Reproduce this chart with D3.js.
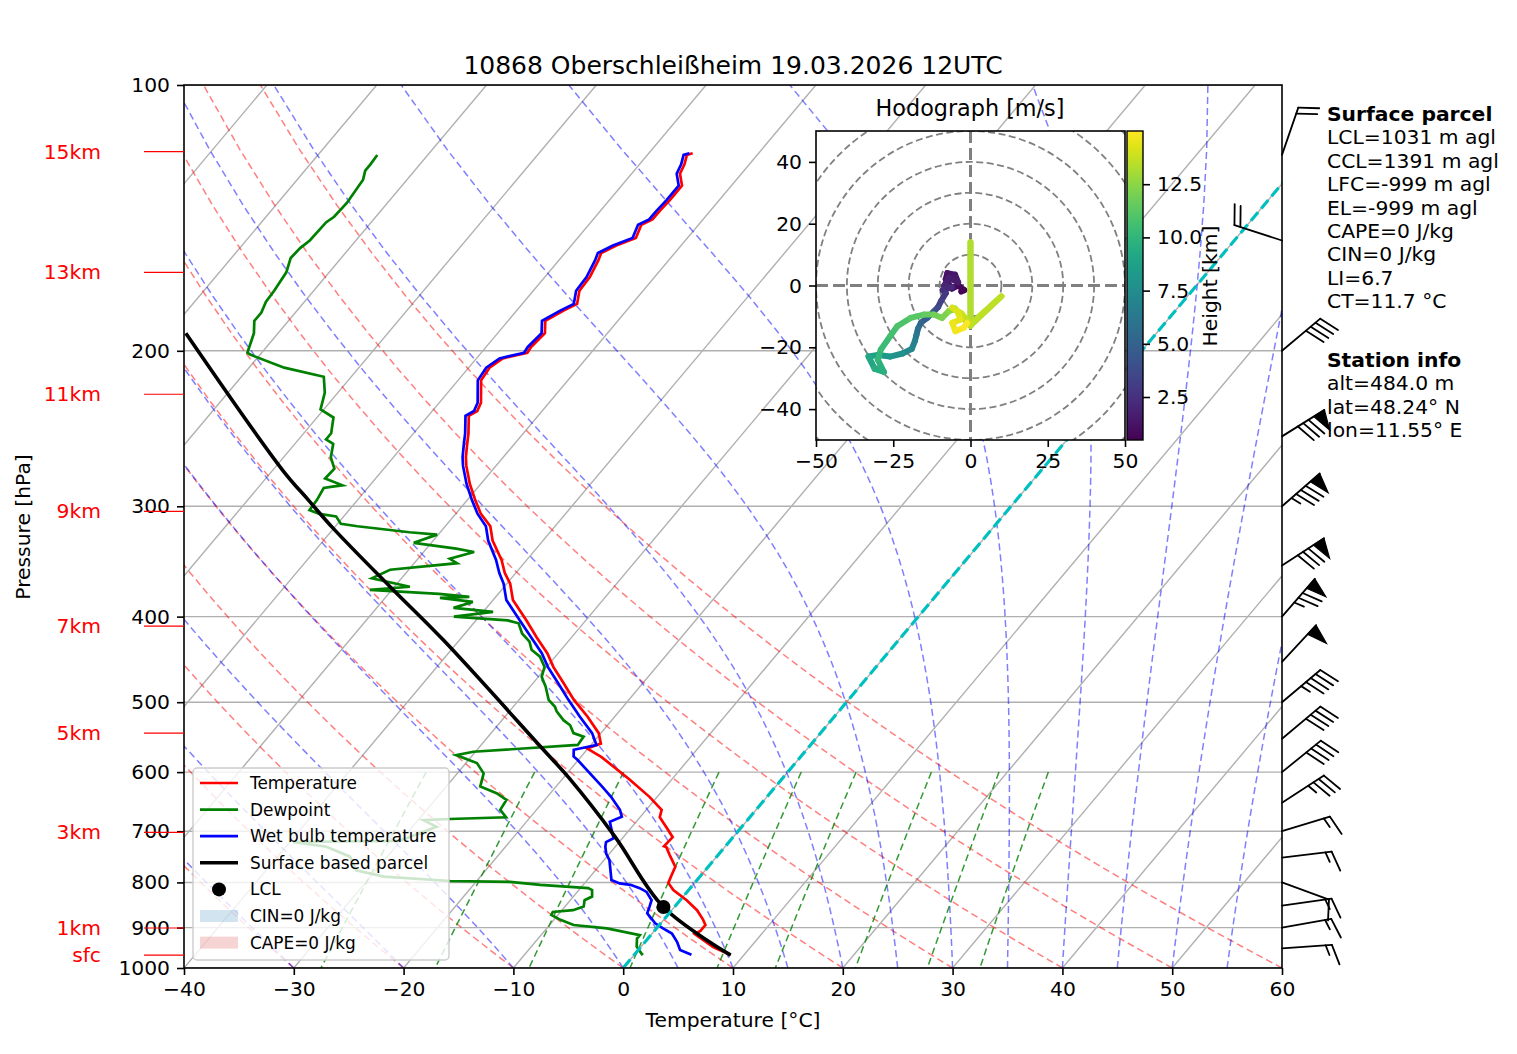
<!DOCTYPE html>
<html>
<head>
<meta charset="utf-8">
<script src="https://cdn.jsdelivr.net/npm/d3@7"></script>
<style>
  body { margin: 0; background: #fff; }
  text { font-family: "DejaVu Sans", sans-serif; }
</style>
</head>
<body>
<div class="chart"></div>
<script>
// ---- sounding values ----
const tempP = [967, 947, 915, 908, 894, 882, 860, 838, 816, 801, 785, 768, 745, 730, 728, 711, 692, 675, 662, 640,
  612, 577, 564, 557, 542, 519, 497, 476, 456, 440, 422, 404, 383, 367, 357, 345, 328, 316, 306, 295,
  283, 270, 264, 255, 248, 237, 234, 229, 216, 209, 204, 201, 198, 191, 185, 180, 177, 171, 165, 158,
  155, 152, 149, 144, 142, 139, 135, 130, 126, 123, 120, 119.5];
const tempT = [8.8, 6.6, 3.9, 4.2, 4.2, 3.6, 2.3, 0.6, -1.4, -2.4, -2.7, -3.0, -4.4, -5.3, -5.6, -5.5, -6.9, -8.2, -8.6, -10.7,
  -13.8, -18.1, -20.1, -19.2, -20.2, -22.5, -25.0, -27.2, -29.4, -31.0, -33.2, -35.4, -38.2, -39.7, -41.0, -42.3, -44.6, -45.9, -47.7, -49.3,
  -51.0, -52.7, -53.4, -54.3, -55.0, -56.3, -55.9, -56.2, -57.9, -58.1, -57.6, -55.8, -55.9, -55.7, -56.6, -55.7, -55.0, -55.8, -55.9, -56.4,
  -56.7, -55.9, -54.7, -55.2, -54.6, -54.6, -54.5, -54.5, -55.6, -55.9, -56.4, -56.0];

const wetP = [966, 954, 934, 914, 902, 890, 867, 852, 838, 820, 812, 805, 802, 795, 755, 742, 729, 720, 713, 698,
  683, 674, 662, 640, 623, 607, 581, 576, 566, 559, 542, 519, 497, 476, 456, 440, 422, 404, 383, 367,
  357, 345, 328, 316, 306, 295, 283, 270, 264, 255, 248, 237, 234, 229, 216, 209, 204, 201, 198, 191,
  185, 180, 177, 171, 165, 158, 155, 152, 149, 144, 142, 139, 135, 130, 126, 123, 120, 119.5];
const wetT = [5.2, 3.8, 2.9, 1.8, 0.6, -0.5, -2.0, -2.3, -2.6, -3.7, -4.6, -5.7, -6.8, -7.8, -9.5, -10.3, -10.9, -11.2, -10.8, -11.6,
  -12.4, -11.7, -12.4, -14.2, -15.8, -17.4, -20.1, -20.7, -21.2, -19.5, -20.8, -23.2, -25.5, -27.7, -29.9, -31.5, -33.7, -36.0, -38.8, -40.3,
  -41.5, -42.8, -45.0, -46.3, -48.0, -49.6, -51.3, -53.0, -53.7, -54.6, -55.3, -56.6, -56.2, -56.5, -58.2, -58.4, -57.9, -56.1, -56.2, -56.0,
  -56.9, -56.0, -55.3, -56.1, -56.2, -56.7, -57.0, -56.2, -55.0, -55.5, -54.9, -54.9, -54.8, -54.8, -55.9, -56.2, -56.7, -56.3];

const dewP = [967, 962, 946, 926, 918, 902, 894, 882, 871, 864, 860, 852, 838, 830, 816, 812, 805, 799, 797, 788,
  775, 748, 729, 720, 718, 692, 680, 678, 675, 662, 645, 634, 623, 602, 586, 574, 569, 559, 547, 542,
  531, 524, 512, 506, 497, 480, 468, 456, 444, 436, 427, 418, 407, 404, 400, 395, 391, 385, 381, 380,
  377, 373, 370, 362, 354, 348, 344, 338, 335, 330, 323, 321, 316, 314, 308, 306, 303, 295, 286, 285,
  284, 279, 272, 264, 255, 252, 248, 238, 233, 223, 214, 209, 202, 201, 191, 185, 181, 176, 171, 163,
  157, 153, 150, 143, 141, 136, 128, 125, 123, 120];
const dewT = [0.8, 0.5, -0.4, -1.0, -1.0, -4.5, -7.8, -9.4, -10.6, -10.7, -9.0, -8.3, -8.7, -8.3, -8.8, -9.3, -13.9, -16.9, -22.4, -28.8,
  -31.8, -33.4, -36.3, -39.7, -30.1, -27.8, -29.5, -27.2, -22.2, -23.3, -23.5, -24.9, -26.9, -27.6, -29.0, -31.5, -30.2, -21.2, -21.3, -22.5,
  -23.4, -24.4, -25.7, -26.2, -27.3, -28.6, -29.7, -30.2, -31.4, -32.7, -33.5, -34.8, -35.9, -37.1, -42.3, -39.1, -43.0, -41.7, -45.0, -42.4,
  -45.4, -52.0, -48.6, -52.7, -51.7, -46.1, -47.1, -45.4, -47.3, -51.6, -50.1, -52.8, -58.0, -59.7, -60.7, -62.4, -63.6, -63.7, -64.0, -63.3,
  -62.5, -64.6, -64.5, -65.7, -66.5, -67.5, -67.5, -68.5, -70.3, -71.2, -72.5, -76.8, -80.9, -81.3, -82.2, -83.1, -83.1, -83.5, -83.6, -83.9,
  -84.6, -84.5, -84.2, -84.1, -83.8, -83.7, -84.0, -84.5, -84.5, -84.6];

const parcelP = [967, 853, 710, 610, 562, 425, 370, 318, 295, 274, 191];
const parcelT = [8.8, -1.0, -10.8, -19.4, -24.4, -41.5, -50.4, -60.0, -64.5, -68.9, -88.4];
const lclP = 853, lclT = -1.0;

// wind barbs (direction in degrees, speed in knots)
const barbP = [120, 150, 200, 250, 300, 350, 400, 450, 500, 550, 600, 650, 700, 750, 800, 850, 900, 950];
const barbDir = [19, 288, 50, 58, 49, 57, 41, 43, 50, 50, 51, 57, 73, 83, 110, 82, 80, 86];
const barbSpd = [20, 20, 40, 80, 85, 80, 75, 50, 45, 40, 40, 35, 15, 15, 10, 15, 15, 15];

// hodograph: height [km], u, v [m/s]
const hodoH = [0.48, 0.6, 0.75, 0.9, 1.0, 1.15, 1.3, 1.45, 1.6, 1.8, 2.0, 2.2, 2.6, 3.0, 3.5, 4.0, 4.5, 5.0, 5.5, 6.0,
  6.5, 7.0, 7.5, 8.0, 8.5, 9.0, 9.3, 9.6, 9.9, 10.2, 10.5, 10.8, 11.1, 11.4, 11.7, 12.0, 12.3, 12.6, 12.9, 13.1,
  13.2, 13.3, 13.5, 13.6, 13.8, 14.0, 14.2, 14.4, 14.5, 14.7, 14.8, 15.0];
const hodoU = [-3, -2, -4, -6, -8, -7.5, -5, -4, -7, -8.5, -6, -9, -8, -9.5, -10.5, -12, -14, -16, -17, -17.5,
  -18, -19, -22, -26, -30, -33, -31, -28, -30, -29, -26, -23.7, -19.4, -15.1, -11.9, -9.2, -7, -5, -3, 0,
  0, 0, 10, 0, -3, -5.9, -4.3, -3.2, -5.9, -4.9, -2.2, -1.1];
const hodoV = [-2, -1.5, 0, -1, 2, 4, 3.5, 1, 2.5, 0, -0.5, -1.5, -2.5, -5, -7, -8.5, -10.5, -12, -14, -16,
  -18, -20.5, -22, -23, -22.5, -23, -27, -28, -24, -20.7, -16.4, -13.2, -10.5, -9.4, -9.4, -10.5, -8.3, -7.5, -10, -13,
  14, -13, -3.5, -12.5, -9, -7.2, -8.3, -11, -12.1, -14.8, -13.7, -12.1];

const heightP = [119, 163, 224, 304, 410, 542, 702, 901, 967];
const heightLbl = ["15km", "13km", "11km", "9km", "7km", "5km", "3km", "1km", "sfc"];

const pTicks = [100, 200, 300, 400, 500, 600, 700, 800, 900, 1000];
const tTicks = [-40, -30, -20, -10, 0, 10, 20, 30, 40, 50, 60];
const cbTicks = [2.5, 5.0, 7.5, 10.0, 12.5];

const title = "10868 Oberschleißheim 19.03.2026 12UTC";
const parcelInfo = ["LCL=1031 m agl", "CCL=1391 m agl", "LFC=-999 m agl", "EL=-999 m agl",
  "CAPE=0 J/kg", "CIN=0 J/kg", "LI=6.7", "CT=11.7 °C"];
const stationInfo = ["alt=484.0 m", "lat=48.24° N", "lon=11.55° E"];

// ---- layout ----
const W = 1517, H = 1054;
const plotL = 184, plotR = 1282, plotT = 85, plotB = 968;
const skew = 0.84;

const svg = d3.select(".chart").append("svg")
  .attr("width", W).attr("height", H);

const xScale = d3.scaleLinear().domain([-40, 60]).range([plotL, plotR]);
const yScale = d3.scaleLog().domain([1000, 100]).range([plotB, plotT]);
const sx = (t, p) => xScale(t) + (plotB - yScale(p)) * skew;

const line = d3.line().x(d => sx(d[1], d[0])).y(d => yScale(d[0]));
const zip = (ps, ts) => ps.map((p, i) => [p, ts[i]]);

const defs = svg.append("defs");
defs.append("clipPath").attr("id", "plotclip")
  .append("rect").attr("x", plotL).attr("y", plotT).attr("width", plotR - plotL).attr("height", plotB - plotT);

const plot = svg.append("g").attr("clip-path", "url(#plotclip)");

// isotherm grid and pressure grid
d3.range(-170, 61, 10).forEach(t => {
  plot.append("line")
    .attr("x1", sx(t, 1000)).attr("y1", yScale(1000))
    .attr("x2", sx(t, 100)).attr("y2", yScale(100))
    .attr("stroke", "#b0b0b0").attr("stroke-width", 1.4);
});
pTicks.forEach(p => {
  plot.append("line").attr("x1", plotL).attr("x2", plotR)
    .attr("y1", yScale(p)).attr("y2", yScale(p))
    .attr("stroke", "#b0b0b0").attr("stroke-width", 1.4);
});

// thermodynamic background lines
const Rd = 287.04749, Cp = 1004.666, Lv = 2.50084e6, eps = 0.6219569, kappa = Rd / Cp;
const press = d3.range(50).map(i => 1000 - i * 900 / 49);

d3.range(-40, 61, 10).forEach(t0 => {
  const pts = press.map(p => [p, (t0 + 273.15) * Math.pow(p / 1000, kappa) - 273.15]);
  plot.append("path").attr("d", line(pts)).attr("fill", "none")
    .attr("stroke", "red").attr("stroke-opacity", 0.5).attr("stroke-width", 1.5)
    .attr("stroke-dasharray", "7,4");
});

function satMix(p, t) {
  const es = 6.112 * Math.exp(17.67 * (t - 273.15) / (t - 29.65));
  return eps * es / (p - es);
}
function dTdp(p, t) {
  const rs = satMix(p, t);
  return (Rd * t + Lv * rs) / (Cp + Lv * Lv * rs * eps / (Rd * t * t)) / p;
}
function moistLapse(t0) {
  let t = t0 + 273.15;
  const out = [[press[0], t0]];
  for (let i = 1; i < press.length; i++) {
    const steps = 10, h = (press[i] - press[i - 1]) / steps;
    let p = press[i - 1];
    for (let k = 0; k < steps; k++) {
      const k1 = dTdp(p, t), k2 = dTdp(p + h / 2, t + h * k1 / 2);
      const k3 = dTdp(p + h / 2, t + h * k2 / 2), k4 = dTdp(p + h, t + h * k3);
      t += h * (k1 + 2 * k2 + 2 * k3 + k4) / 6;
      p += h;
    }
    out.push([press[i], t - 273.15]);
  }
  return out;
}
[...d3.range(-40, 0, 10), ...d3.range(0, 61, 5)].forEach(t0 => {
  plot.append("path").attr("d", line(moistLapse(t0))).attr("fill", "none")
    .attr("stroke", "blue").attr("stroke-opacity", 0.5).attr("stroke-width", 1.5)
    .attr("stroke-dasharray", "7,4");
});

const mixRatios = [0.0004, 0.001, 0.002, 0.004, 0.007, 0.01, 0.016, 0.024, 0.032];
const pMix = d3.range(50).map(i => 600 + i * 400 / 49);
mixRatios.forEach(w => {
  const pts = pMix.map(p => {
    const e = p * w / (eps + w), l = Math.log(e / 6.112);
    return [p, 243.5 * l / (17.67 - l)];
  });
  plot.append("path").attr("d", line(pts)).attr("fill", "none")
    .attr("stroke", "green").attr("stroke-opacity", 0.8).attr("stroke-width", 1.5)
    .attr("stroke-dasharray", "7,4");
});

// profiles
plot.append("path").attr("d", line(zip(tempP, tempT))).attr("fill", "none")
  .attr("stroke", "red").attr("stroke-width", 2.7);
plot.append("path").attr("d", line(zip(dewP, dewT))).attr("fill", "none")
  .attr("stroke", "green").attr("stroke-width", 2.7);
plot.append("path").attr("d", line(zip(wetP, wetT))).attr("fill", "none")
  .attr("stroke", "blue").attr("stroke-width", 2.7);
const smoothLine = d3.line().x(d => sx(d[1], d[0])).y(d => yScale(d[0])).curve(d3.curveCatmullRom);
plot.append("path").attr("d", smoothLine(zip(parcelP, parcelT))).attr("fill", "none")
  .attr("stroke", "black").attr("stroke-width", 3.6);

plot.append("line")
  .attr("x1", sx(0, 1000)).attr("y1", yScale(1000))
  .attr("x2", sx(0, 100)).attr("y2", yScale(100))
  .attr("stroke", "#00bfbf").attr("stroke-width", 3.2).attr("stroke-dasharray", "11,5");

plot.append("circle").attr("cx", sx(lclT, lclP)).attr("cy", yScale(lclP))
  .attr("r", 7).attr("fill", "black");

// legend
const legend = svg.append("g");
legend.append("rect").attr("x", 193).attr("y", 768).attr("width", 256).attr("height", 192)
  .attr("rx", 4).attr("fill", "white").attr("fill-opacity", 0.8)
  .attr("stroke", "#cccccc").attr("stroke-width", 1.4);
const legItems = [
  {label: "Temperature", type: "line", color: "red", w: 2.7},
  {label: "Dewpoint", type: "line", color: "green", w: 2.7},
  {label: "Wet bulb temperature", type: "line", color: "blue", w: 2.7},
  {label: "Surface based parcel", type: "line", color: "black", w: 3.6},
  {label: "LCL", type: "dot", color: "black"},
  {label: "CIN=0 J/kg", type: "patch", color: "rgba(31,119,180,0.2)"},
  {label: "CAPE=0 J/kg", type: "patch", color: "rgba(214,39,40,0.2)"}
];
legItems.forEach((it, i) => {
  const cy = 783 + i * 26.6;
  if (it.type === "line") {
    legend.append("line").attr("x1", 200).attr("x2", 238).attr("y1", cy).attr("y2", cy)
      .attr("stroke", it.color).attr("stroke-width", it.w);
  } else if (it.type === "dot") {
    legend.append("circle").attr("cx", 219).attr("cy", cy).attr("r", 7).attr("fill", it.color);
  } else {
    legend.append("rect").attr("x", 200).attr("y", cy - 6).attr("width", 38).attr("height", 12)
      .attr("fill", it.color);
  }
  legend.append("text").attr("x", 250).attr("y", cy + 6).attr("font-size", 16.9).text(it.label);
});

// frame and axes
svg.append("rect").attr("x", plotL).attr("y", plotT).attr("width", plotR - plotL).attr("height", plotB - plotT)
  .attr("fill", "none").attr("stroke", "black").attr("stroke-width", 1.6);

const yAxis = svg.append("g").attr("transform", `translate(${plotL},0)`)
  .call(d3.axisLeft(yScale).tickValues(pTicks).tickFormat(d3.format("d")).tickSize(7).tickPadding(7));
const xAxis = svg.append("g").attr("transform", `translate(0,${plotB})`)
  .call(d3.axisBottom(xScale).tickValues(tTicks).tickSize(7).tickPadding(7));
[yAxis, xAxis].forEach(a => {
  a.select(".domain").remove();
  a.selectAll("line").attr("stroke-width", 1.6);
  a.selectAll("text").attr("font-size", 20.3).attr("font-family", "DejaVu Sans").attr("fill", "black");
});

svg.append("text").attr("x", (plotL + plotR) / 2).attr("y", 74).attr("text-anchor", "middle")
  .attr("font-size", 25).text(title);
svg.append("text").attr("x", (plotL + plotR) / 2).attr("y", 1027).attr("text-anchor", "middle")
  .attr("font-size", 20.3).text("Temperature [°C]");
svg.append("text").attr("transform", "translate(30,527) rotate(-90)").attr("text-anchor", "middle")
  .attr("font-size", 20.3).text("Pressure [hPa]");

// height markers
heightP.forEach((p, i) => {
  svg.append("line").attr("x1", 144).attr("x2", plotL).attr("y1", yScale(p)).attr("y2", yScale(p))
    .attr("stroke", "red").attr("stroke-width", 1.2);
  svg.append("text").attr("x", 101).attr("y", yScale(p) + 7).attr("text-anchor", "end")
    .attr("fill", "red").attr("font-size", 20.3).text(heightLbl[i]);
});

// wind barbs along the right edge
function drawBarb(g, bx, by, dir, spd) {
  const L = 50, sp = 0.125 * L, fh = 0.4 * L, fw = 0.25 * L;
  const a = dir * Math.PI / 180;
  const d = [Math.sin(a), -Math.cos(a)], n = [Math.cos(a), Math.sin(a)];
  const pt = (o, h) => [bx + d[0] * o + n[0] * h, by + d[1] * o + n[1] * h];
  let s = Math.round(spd / 5) * 5;
  const flags = Math.floor(s / 50); s -= flags * 50;
  const full = Math.floor(s / 10); s -= full * 10;
  const half = s >= 5;
  const seg = (p0, p1) => g.append("line").attr("x1", p0[0]).attr("y1", p0[1]).attr("x2", p1[0]).attr("y2", p1[1])
    .attr("stroke", "black").attr("stroke-width", 1.8).attr("stroke-linecap", "round");
  seg(pt(0, 0), pt(L, 0));
  let off = L;
  for (let i = 0; i < flags; i++) {
    if (off !== L) off += sp / 2;
    g.append("polygon").attr("points", [pt(off, 0), pt(off - fw / 2, fh), pt(off - fw, 0)].map(q => q.join(",")).join(" "))
      .attr("fill", "black").attr("stroke", "black").attr("stroke-width", 1.2);
    off -= fw + sp;
  }
  for (let i = 0; i < full; i++) {
    seg(pt(off, 0), pt(off + fw / 2, fh));
    off -= sp;
  }
  if (half) {
    if (off === L) off -= 1.5 * sp;
    seg(pt(off, 0), pt(off + fw / 4, fh / 2));
  }
}
const barbs = svg.append("g");
barbP.forEach((p, i) => drawBarb(barbs, plotR, yScale(p), barbDir[i], barbSpd[i]));

// text block on the right
const info = svg.append("g").attr("font-size", 20.3);
info.append("text").attr("x", 1327).attr("y", 121).attr("font-weight", "bold").text("Surface parcel");
parcelInfo.forEach((t, i) => info.append("text").attr("x", 1327).attr("y", 121 + (i + 1) * 23.4).text(t));
info.append("text").attr("x", 1327).attr("y", 367).attr("font-weight", "bold").text("Station info");
stationInfo.forEach((t, i) => info.append("text").attr("x", 1327).attr("y", 367 + (i + 1) * 23.4).text(t));

// hodograph inset
const hx = d3.scaleLinear().domain([-50, 50]).range([816, 1125]);
const hy = d3.scaleLinear().domain([-50, 50]).range([440, 131]);
const hNorm = d3.scaleLinear().domain([0.48, 15.0]).range([0, 1]);
const hodo = svg.append("g");
defs.append("clipPath").attr("id", "hodoclip")
  .append("rect").attr("x", 816).attr("y", 131).attr("width", 309).attr("height", 309);
hodo.append("rect").attr("x", 816).attr("y", 131).attr("width", 309).attr("height", 309).attr("fill", "white");
const hin = hodo.append("g").attr("clip-path", "url(#hodoclip)");
d3.range(10, 71, 10).forEach(r => {
  hin.append("circle").attr("cx", hx(0)).attr("cy", hy(0)).attr("r", hx(r) - hx(0))
    .attr("fill", "none").attr("stroke", "#808080").attr("stroke-width", 1.8).attr("stroke-dasharray", "7,3.5");
});
hin.append("line").attr("x1", 816).attr("x2", 1125).attr("y1", hy(0)).attr("y2", hy(0))
  .attr("stroke", "#808080").attr("stroke-width", 3).attr("stroke-dasharray", "12,5");
hin.append("line").attr("y1", 131).attr("y2", 440).attr("x1", hx(0)).attr("x2", hx(0))
  .attr("stroke", "#808080").attr("stroke-width", 3).attr("stroke-dasharray", "12,5");
for (let i = 0; i < hodoH.length - 1; i++) {
  hin.append("line")
    .attr("x1", hx(hodoU[i])).attr("y1", hy(hodoV[i]))
    .attr("x2", hx(hodoU[i + 1])).attr("y2", hy(hodoV[i + 1]))
    .attr("stroke", d3.interpolateViridis(hNorm((hodoH[i] + hodoH[i + 1]) / 2)))
    .attr("stroke-width", 6).attr("stroke-linecap", "round");
}
hodo.append("rect").attr("x", 816).attr("y", 131).attr("width", 309).attr("height", 309)
  .attr("fill", "none").attr("stroke", "black").attr("stroke-width", 1.6);
const hxa = hodo.append("g").attr("transform", "translate(0,440)")
  .call(d3.axisBottom(hx).tickValues([-50, -25, 0, 25, 50]).tickSize(7).tickPadding(7));
const hya = hodo.append("g").attr("transform", "translate(816,0)")
  .call(d3.axisLeft(hy).tickValues([-40, -20, 0, 20, 40]).tickSize(7).tickPadding(7));
[hxa, hya].forEach(a => {
  a.select(".domain").remove();
  a.selectAll("line").attr("stroke-width", 1.6);
  a.selectAll("text").attr("font-size", 20.3).attr("font-family", "DejaVu Sans").attr("fill", "black");
});
hodo.append("text").attr("x", 970).attr("y", 116).attr("text-anchor", "middle")
  .attr("font-size", 22.3).text("Hodograph [m/s]");

// colorbar
const grad = defs.append("linearGradient").attr("id", "viridis")
  .attr("x1", 0).attr("y1", 1).attr("x2", 0).attr("y2", 0);
d3.range(0, 1.001, 0.05).forEach(f => grad.append("stop").attr("offset", f).attr("stop-color", d3.interpolateViridis(f)));
const cbY = d3.scaleLinear().domain([0.48, 15.0]).range([440, 131]);
hodo.append("rect").attr("x", 1127).attr("y", 131).attr("width", 16).attr("height", 309)
  .attr("fill", "url(#viridis)").attr("stroke", "black").attr("stroke-width", 1.4);
const cba = hodo.append("g").attr("transform", "translate(1143,0)")
  .call(d3.axisRight(cbY).tickValues(cbTicks).tickFormat(d3.format(".1f")).tickSize(7).tickPadding(7));
cba.select(".domain").remove();
cba.selectAll("line").attr("stroke-width", 1.6);
cba.selectAll("text").attr("font-size", 20.3).attr("font-family", "DejaVu Sans").attr("fill", "black");
hodo.append("text").attr("transform", "translate(1217,286) rotate(-90)").attr("text-anchor", "middle")
  .attr("font-size", 20.3).text("Height [km]");
</script>
</body>
</html>
